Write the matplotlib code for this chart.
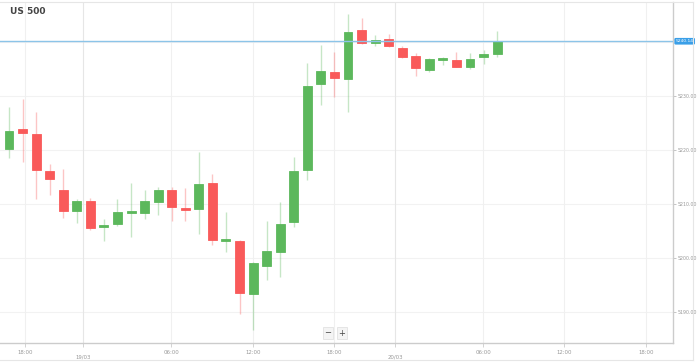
import numpy as np
import matplotlib.pyplot as plt
from matplotlib.lines import Line2D

# hourly candles, US 500
opens = [5220.2, 5223.9, 5223.0, 5216.1, 5212.6, 5208.7, 5210.6, 5205.7, 5206.3, 5208.3,
         5208.3, 5210.4, 5212.6, 5209.3, 5209.1, 5213.9, 5203.2, 5203.2, 5193.3, 5198.5,
         5201.1, 5206.7, 5216.3, 5232.2, 5234.4, 5233.2, 5242.2, 5239.8, 5240.6, 5238.9,
         5237.4, 5234.8, 5236.7, 5236.7, 5235.4, 5237.2, 5237.8]
highs = [5228.0, 5229.4, 5227.0, 5217.4, 5216.5, 5210.9, 5211.1, 5207.2, 5210.9, 5213.9,
         5212.6, 5213.2, 5213.2, 5213.0, 5219.6, 5215.6, 5208.5, 5203.3, 5199.3, 5206.9,
         5210.4, 5218.7, 5236.1, 5239.4, 5238.2, 5245.2, 5244.4, 5241.3, 5241.5, 5239.3,
         5238.0, 5237.0, 5237.2, 5238.2, 5238.0, 5238.5, 5242.0]
lows = [5218.5, 5217.8, 5210.9, 5211.7, 5207.4, 5206.5, 5205.2, 5203.2, 5205.9, 5203.9,
        5207.2, 5208.0, 5206.9, 5206.9, 5204.4, 5202.4, 5201.1, 5189.6, 5186.7, 5195.9,
        5196.5, 5205.7, 5214.4, 5228.3, 5229.8, 5227.0, 5239.7, 5239.3, 5239.1, 5237.0,
        5233.7, 5234.4, 5235.7, 5235.4, 5235.0, 5235.9, 5237.2]
closes = [5223.5, 5223.2, 5216.3, 5214.6, 5208.7, 5210.6, 5205.6, 5206.1, 5208.5, 5208.7,
          5210.6, 5212.6, 5209.4, 5208.9, 5213.7, 5203.3, 5203.5, 5193.5, 5199.1, 5201.3,
          5206.3, 5216.1, 5231.9, 5234.6, 5233.3, 5241.9, 5239.8, 5240.4, 5239.3, 5237.2,
          5235.2, 5236.9, 5237.0, 5235.4, 5236.9, 5237.8, 5240.14]
last_price = 5240.14

tick_pos = [1.18, 5.46, 11.95, 17.99, 23.97, 28.47, 34.96, 40.93, 46.98]
tick_lab = ['18:00', '19/03', '06:00', '12:00', '18:00', '20/03', '06:00', '12:00', '18:00']
day_ticks = [1, 5]
price_ticks = [5190, 5200, 5210, 5220, 5230]

green = '#5cb85c'
red = '#f95a5a'

W, H = 698, 362
fig = plt.figure(figsize=(W / 100, H / 100), dpi=100)
ax = fig.add_axes([0, (H - 343) / H, 673 / W, 341 / H])

x = np.arange(len(opens))
o = np.array(opens); c = np.array(closes)
cols = [green if cc >= oo else red for oo, cc in zip(o, c)]

ax.vlines(x, lows, highs, colors=cols, linewidth=1, alpha=0.35, zorder=2)
bottom = np.minimum(o, c)
height = np.maximum(np.abs(c - o), 0.35)
ax.bar(x, height, bottom=bottom, width=0.66, color=cols, edgecolor=cols,
       linewidth=0.6, zorder=3)

ax.set_xlim(-0.664, 48.97)
ax.set_ylim(5184.26, 5247.41)

# grid
for p in price_ticks + [5240]:
    ax.axhline(p, color='#f2f2f2', linewidth=0.8, zorder=0)
for i, t in enumerate(tick_pos):
    ax.axvline(t, color='#e6e6e6' if i in day_ticks else '#f0f0f0', linewidth=0.8, zorder=0)

ax.axhline(last_price, color='#8cc4e8', linewidth=1, zorder=4)

for s in ['left', 'top']:
    ax.spines[s].set_visible(False)
for s in ['right', 'bottom']:
    ax.spines[s].set_color('#cccccc')
    ax.spines[s].set_linewidth(1)

ax.yaxis.tick_right()
ax.set_yticks(price_ticks)
ax.set_yticklabels([f'{p:.2f}' for p in price_ticks])
ax.tick_params(axis='y', labelsize=3.4, labelcolor='#999999', color='#bbbbbb',
               length=2, width=0.6, pad=1)
ax.set_xticks(tick_pos)
ax.set_xticklabels(['' for _ in tick_lab])
ax.tick_params(axis='x', length=3, width=0.6, color='#cccccc')
for i, (t, lab) in enumerate(zip(tick_pos, tick_lab)):
    yoff = -14 if lab.count('/') else -9
    ax.annotate(lab, (t, 0), xycoords=('data', 'axes fraction'), xytext=(0, yoff),
                textcoords='offset pixels', ha='center', va='center',
                fontsize=3.9, color='#999999')

ax.text(1.004, last_price, f'{last_price:.2f}', transform=ax.get_yaxis_transform(),
        ha='left', va='center', fontsize=3.2, color='white',
        bbox=dict(boxstyle='round,pad=0.3,rounding_size=0.3', fc='#3a9fe8', ec='none'))

ax.text(10 / 673, 1 - 10 / 341, 'US 500', transform=ax.transAxes, ha='left', va='center',
        fontsize=6.5, fontweight='bold', color='#444444')

# zoom buttons
for xb, s in [(328, '−'), (342, '+')]:
    fig.text(xb / W, 1 - 333 / H, s, ha='center', va='center', fontsize=6, color='#444444',
             bbox=dict(boxstyle='square,pad=0.2', fc='#f4f4f4', ec='#dddddd', lw=0.5))

# outer frame
fig.add_artist(Line2D([0, 693 / W], [1 - 1.5 / H] * 2, color='#e6e6e6', lw=0.8))
fig.add_artist(Line2D([693 / W] * 2, [1 - 1.5 / H, 1 - 360 / H], color='#e6e6e6', lw=0.8))
fig.add_artist(Line2D([0, 693 / W], [1 - 360 / H] * 2, color='#e6e6e6', lw=0.8))

fig.savefig('out.png', dpi=100)
